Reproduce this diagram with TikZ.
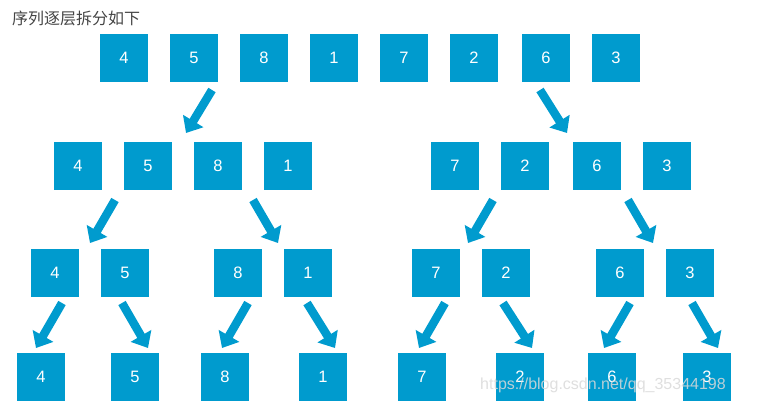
\documentclass[tikz,border=0pt]{standalone}
\usepackage{fontspec}
\setmainfont{Liberation Sans}
\newfontfamily\cjkfont{Noto Sans CJK SC}
\usetikzlibrary{arrows.meta}
\definecolor{cellblue}{RGB}{0,155,206}
\definecolor{titlegray}{RGB}{68,68,68}
\tikzset{
  cell/.style={fill=cellblue, draw=none, minimum size=48pt, inner sep=0pt,
    text=white, font=\fontsize{16.5}{16.5}\selectfont},
  splitarrow/.style={draw=cellblue, line width=8.5pt,
    -{Triangle[width=23pt,length=14pt]}},
  wmark/.style={text=gray!30, opacity=0.85, font=\fontsize{16}{16}\selectfont}
}
\begin{document}
\begin{tikzpicture}[x=1pt,y=-1pt]
\useasboundingbox (0,0) rectangle (783,413);

% heading
\node[anchor=west, inner sep=0pt, text=titlegray, font=\cjkfont\fontsize{16}{16}\selectfont] (title) at (12,18) {序列逐层拆分如下};

% level 1: whole sequence
\node[cell] (a1) at (124,58) {4};
\node[cell] (a2) at (194,58) {5};
\node[cell] (a3) at (264,58) {8};
\node[cell] (a4) at (334,58) {1};
\node[cell] (a5) at (404,58) {7};
\node[cell] (a6) at (474,58) {2};
\node[cell] (a7) at (546,58) {6};
\node[cell] (a8) at (616,58) {3};

% level 2: halves
\node[cell] (b1) at (78,166) {4};
\node[cell] (b2) at (148,166) {5};
\node[cell] (b3) at (218,166) {8};
\node[cell] (b4) at (288,166) {1};
\node[cell] (b5) at (455,166) {7};
\node[cell] (b6) at (525,166) {2};
\node[cell] (b7) at (597,166) {6};
\node[cell] (b8) at (667,166) {3};

% level 3: quarters
\node[cell] (c1) at (55,273) {4};
\node[cell] (c2) at (125,273) {5};
\node[cell] (c3) at (238,273) {8};
\node[cell] (c4) at (308,273) {1};
\node[cell] (c5) at (436,273) {7};
\node[cell] (c6) at (506,273) {2};
\node[cell] (c7) at (620,273) {6};
\node[cell] (c8) at (690,273) {3};

% level 4: single elements
\node[cell] (d1) at (41,377) {4};
\node[cell] (d2) at (135,377) {5};
\node[cell] (d3) at (225,377) {8};
\node[cell] (d4) at (323,377) {1};
\node[cell] (d5) at (422,377) {7};
\node[cell] (d6) at (520,377) {2};
\node[cell] (d7) at (612,377) {6};
\node[cell] (d8) at (707,377) {3};

% arrow end points
\coordinate (p1s) at (212,90);  \coordinate (p1e) at (186,133);
\coordinate (p2s) at (540,90);  \coordinate (p2e) at (567,133);
\coordinate (q1s) at (115,200); \coordinate (q1e) at (90,243);
\coordinate (q2s) at (253,200); \coordinate (q2e) at (278,243);
\coordinate (q3s) at (493,200); \coordinate (q3e) at (468,243);
\coordinate (q4s) at (628,200); \coordinate (q4e) at (653,243);
\coordinate (r1s) at (62,303);  \coordinate (r1e) at (36,348);
\coordinate (r2s) at (122,303); \coordinate (r2e) at (148,348);
\coordinate (r3s) at (248,303); \coordinate (r3e) at (222,348);
\coordinate (r4s) at (307,303); \coordinate (r4e) at (335,348);
\coordinate (r5s) at (445,303); \coordinate (r5e) at (419,348);
\coordinate (r6s) at (503,303); \coordinate (r6e) at (532,348);
\coordinate (r7s) at (630,303); \coordinate (r7e) at (604,348);
\coordinate (r8s) at (692,303); \coordinate (r8e) at (718,348);

% split arrows
\foreach \k in {p1,p2,q1,q2,q3,q4,r1,r2,r3,r4,r5,r6,r7,r8}
  \draw[splitarrow] (\k s) -- (\k e);

% source mark
\node[wmark] (src) at (603,385) {https://blog.csdn.net/qq\_35344198};
\end{tikzpicture}
\end{document}
